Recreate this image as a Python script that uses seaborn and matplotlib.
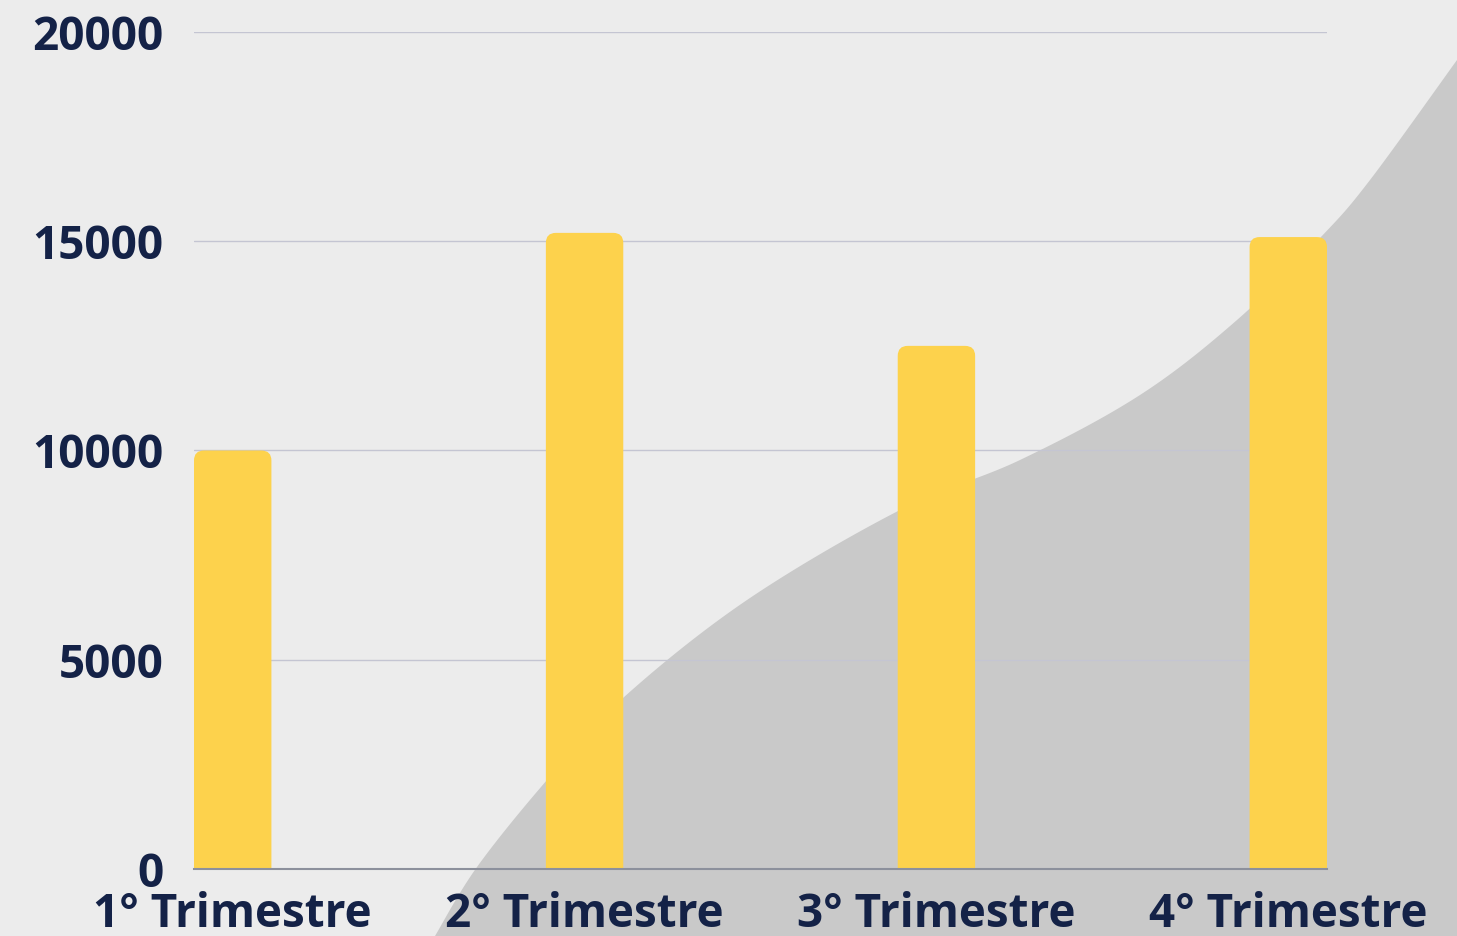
import matplotlib
matplotlib.use("Agg")
import matplotlib.pyplot as plt
import numpy as np
import seaborn as sns
from matplotlib.patches import FancyBboxPatch, Polygon

quarters = ["1° Trimestre", "2° Trimestre", "3° Trimestre", "4° Trimestre"]
values = [10000, 15200, 12500, 15100]
y_ticks = [0, 5000, 10000, 15000, 20000]

BG = "#ececec"
WAVE = "#c9c9c9"
BAR = "#fdd24c"
TEXT = "#142247"

sns.set_theme(style="white")
plt.rcParams["font.family"] = ["Open Sans", "DejaVu Sans"]
plt.rcParams["font.weight"] = "bold"


def catmull_rom(pts, n=30):
    pts = np.asarray(pts, dtype=float)
    pts = np.vstack([pts[0], pts, pts[-1]])
    out = []
    for i in range(1, len(pts) - 2):
        p0, p1, p2, p3 = pts[i - 1], pts[i], pts[i + 1], pts[i + 2]
        t = np.linspace(0, 1, n, endpoint=False)[:, None]
        seg = 0.5 * ((2 * p1) + (-p0 + p2) * t
                     + (2 * p0 - 5 * p1 + 4 * p2 - p3) * t ** 2
                     + (-p0 + 3 * p1 - 3 * p2 + p3) * t ** 3)
        out.append(seg)
    out.append(pts[-2][None, :])
    return np.vstack(out)


W, H = 1457, 936
fig = plt.figure(figsize=(W / 100, H / 100), dpi=100)
fig.patch.set_facecolor(BG)

# decorative wave in the background (pixel coords, y from top)
wave_px = [(435, 936), (477, 867), (547, 780), (623, 698), (747, 600),
           (900, 510), (1020, 460), (1140, 395), (1237, 320), (1320, 238),
           (1370, 180), (1457, 60)]
curve = catmull_rom(wave_px)
poly = np.vstack([curve, [(W, 0), (W, H)]])
poly[:, 0] /= W
poly[:, 1] = 1 - poly[:, 1] / H
fig.patches.append(Polygon(poly, closed=True, transform=fig.transFigure,
                           facecolor=WAVE, edgecolor="none", zorder=-1))

ax = fig.add_axes([194 / W, 1 - 869 / H, (1327 - 194) / W, (869 - 32) / H])
ax.patch.set_alpha(0)
ax.set_zorder(1)

sns.barplot(x=quarters, y=values, color=BAR, saturation=1, width=0.22, ax=ax,
            zorder=3)

ax.set_xlim(-0.11, 3.11)
ax.set_ylim(0, 20000)

# rounded tops on the bars
xr = 10 / 352
yr = 10 * 20000 / 837
for bar in list(ax.patches):
    x, w, h = bar.get_x(), bar.get_width(), bar.get_height()
    bar.remove()
    ax.add_patch(FancyBboxPatch((x, -2 * yr), w, h + 2 * yr,
                                boxstyle=f"round,pad=0,rounding_size={xr}",
                                mutation_aspect=yr / xr,
                                facecolor=BAR, edgecolor="none", zorder=3))

ax.set_yticks(y_ticks)
ax.set_yticklabels([str(v) for v in y_ticks])
ax.yaxis.grid(True, color="#c4c5d2", linewidth=1)
ax.set_axisbelow(True)
for s in ["top", "right", "left"]:
    ax.spines[s].set_visible(False)
ax.spines["bottom"].set_color("#8c909c")
ax.spines["bottom"].set_linewidth(1.5)
ax.spines["bottom"].set_zorder(4)

ax.tick_params(axis="y", length=0, pad=22, labelsize=33, labelcolor=TEXT)
ax.tick_params(axis="x", length=0, pad=16, labelsize=33, labelcolor=TEXT)
for lbl in ax.get_xticklabels() + ax.get_yticklabels():
    lbl.set_fontweight("bold")
ax.set_xlabel("")
ax.set_ylabel("")

fig.savefig("out.png", dpi=100, facecolor=BG)
